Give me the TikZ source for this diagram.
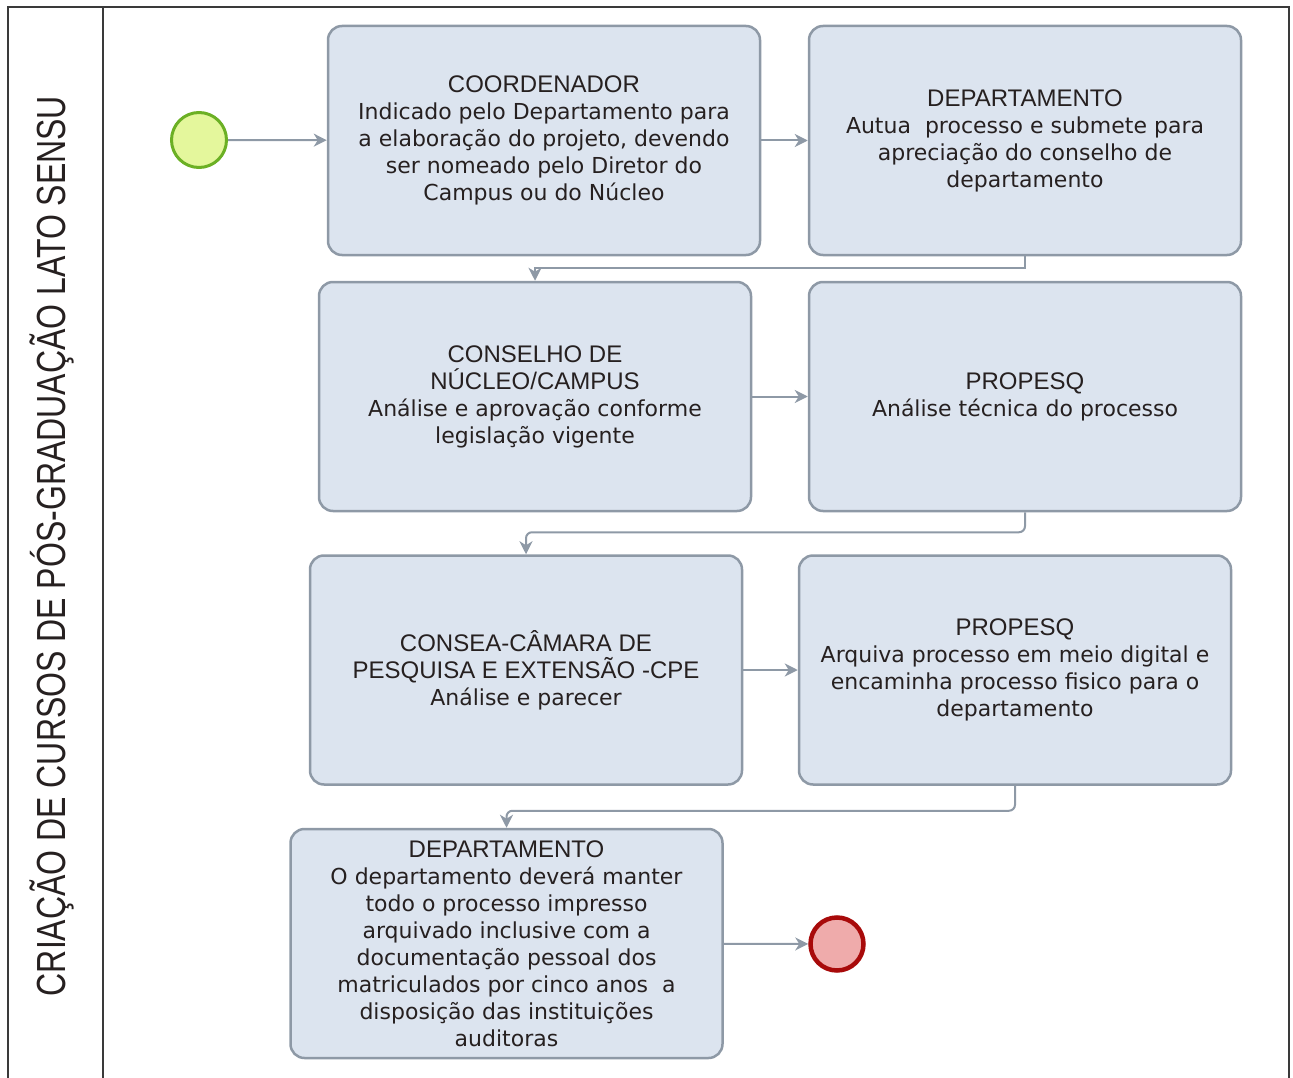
\documentclass[tikz,border=0pt]{standalone}
\usepackage{fontspec}
\setmainfont{Liberation Sans}
\newfontfamily\titfont{Liberation Sans}
\newfontfamily\bodfont{DejaVu Sans}
\usetikzlibrary{arrows.meta}
\definecolor{boxfill}{HTML}{DCE4EF}
\definecolor{boxline}{HTML}{8E99A6}
\definecolor{arrowc}{HTML}{8E99A6}
\definecolor{txtc}{HTML}{262020}
\definecolor{startfill}{HTML}{E4F79C}
\definecolor{startline}{HTML}{6BB024}
\definecolor{endfill}{HTML}{EFABAB}
\definecolor{endline}{HTML}{A80A0A}
\definecolor{framec}{HTML}{3A3A3A}
\newcommand{\ttl}[1]{{\titfont\fontsize{24}{27}\selectfont #1}}
\tikzset{
  taskbox/.style={draw=boxline, line width=2.5pt, fill=boxfill, rounded corners=14pt,
    minimum width=432pt, minimum height=229pt, inner sep=0pt, align=center,
    text=txtc, font=\bodfont\fontsize{22}{27}\selectfont},
  conn/.style={draw=arrowc, line width=2pt, -{Stealth[length=13pt,width=13pt,inset=4pt]}},
  startev/.style={circle, draw=startline, fill=startfill, line width=3pt, minimum size=55pt, inner sep=0pt},
  endev/.style={circle, draw=endline, fill=endfill, line width=4.5pt, minimum size=53pt, inner sep=0pt},
  frameline/.style={draw=framec, line width=2pt}
}
\begin{document}
\begin{tikzpicture}[x=1pt,y=-1pt]
\useasboundingbox (0,0) rectangle (1293,1078);
% frame and lane
\draw[frameline] (8,1078) -- (8,7) -- (1289,7) -- (1289,1078);
\draw[frameline] (103,7) -- (103,1078);
\node[rotate=90, text=txtc, inner sep=0pt] (lane) at (52,546)
  {\scalebox{1}[1.27]{\titfont\fontsize{32}{36}\selectfont CRIAÇÃO DE CURSOS DE PÓS-GRADUAÇÃO LATO SENSU}};
% events
\node[startev] (start) at (199,140) {};
\node[endev] (end) at (837,944) {};
% tasks
\node[taskbox] (b1) at (544,140.5) {\ttl{COORDENADOR}\\Indicado pelo Departamento para\\a elaboração do projeto, devendo\\ser nomeado pelo Diretor do\\Campus ou do Núcleo};
\node[taskbox] (b2) at (1025,140.5) {\ttl{DEPARTAMENTO}\\Autua\ \ processo e submete para\\apreciação do conselho de\\departamento};
\node[taskbox] (b3) at (535,396.5) {\ttl{CONSELHO DE}\\\ttl{NÚCLEO/CAMPUS}\\Análise e aprovação conforme\\legislação vigente};
\node[taskbox] (b4) at (1025,396.5) {\ttl{PROPESQ}\\Análise técnica do processo};
\node[taskbox] (b5) at (526,670) {\ttl{CONSEA-CÂMARA DE}\\\ttl{PESQUISA E EXTENSÃO -CPE}\\Análise e parecer};
\node[taskbox] (b6) at (1015,670) {\ttl{PROPESQ}\\Arquiva processo em meio digital e\\encaminha processo fisico para o\\departamento};
\node[taskbox] (b7) at (506.5,943.5) {\ttl{DEPARTAMENTO}\\O departamento deverá manter\\todo o processo impresso\\arquivado inclusive com a\\documentação pessoal dos\\matriculados por cinco anos\ \ a\\disposição das instituições\\auditoras};
% connectors
\draw[conn] (start) -- (b1);
\draw[conn] (b1) -- (b2);
\draw[conn] (b2.south) -- ++(0,12) -| (b3.north);
\draw[conn] (b3) -- (b4);
\draw[conn, rounded corners=6pt] (b4.south) -- ++(0,20) -| (b5.north);
\draw[conn] (b5) -- (b6);
\draw[conn, rounded corners=6pt] (b6.south) -- ++(0,25) -| (b7.north);
\draw[conn] (b7) -- (end);
\end{tikzpicture}
\end{document}
